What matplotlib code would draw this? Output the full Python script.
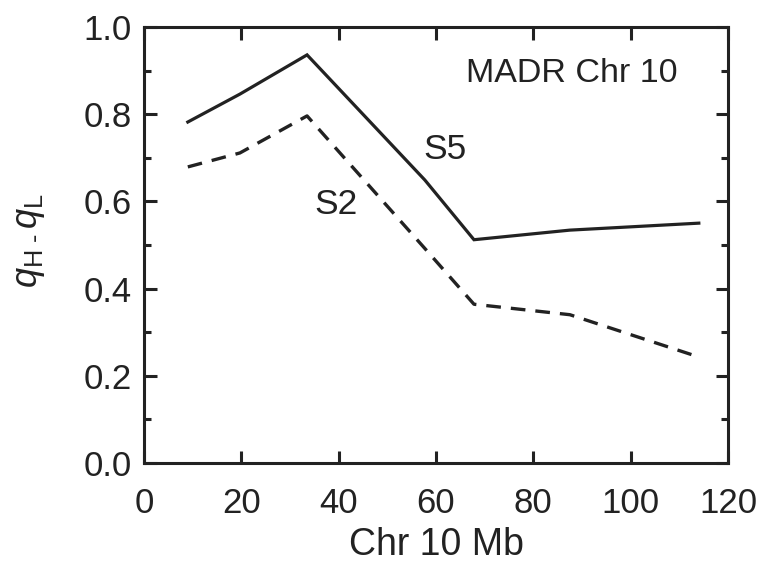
import numpy as np
import matplotlib
matplotlib.use("Agg")
import matplotlib.pyplot as plt
from matplotlib.ticker import MultipleLocator

# positions along chromosome 10 (Mb) and q_H - q_L for the two selection lines
chr_mb = [9.0, 19.7, 33.5, 57.7, 67.8, 87.5, 114.0]
s5_diff = [0.782, 0.846, 0.936, 0.649, 0.512, 0.534, 0.550]
s2_diff = [0.679, 0.711, 0.796, 0.492, 0.364, 0.340, 0.243]

x_ticks = [0, 20, 40, 60, 80, 100, 120]
y_ticks = [0.0, 0.2, 0.4, 0.6, 0.8, 1.0]

plt.rcParams['font.family'] = ['Liberation Sans', 'DejaVu Sans']
plt.rcParams['mathtext.fontset'] = 'custom'
plt.rcParams['mathtext.rm'] = 'Liberation Sans'
plt.rcParams['mathtext.it'] = 'Liberation Sans:italic'

ink = '#222222'
fig = plt.figure(figsize=(7.62, 5.68), dpi=100)
ax = fig.add_axes([0.189, 0.185, 0.7664, 0.7675])

ax.plot(chr_mb, s5_diff, color=ink, lw=2.3, solid_joinstyle='miter')
ax.plot(chr_mb, s2_diff, color=ink, lw=2.4, linestyle=(0, (4.4, 3.0)))

ax.text(61.8, 0.718, 'S5', fontsize=25.5, color=ink, ha='center', va='center')
ax.text(39.4, 0.592, 'S2', fontsize=25.5, color=ink, ha='center', va='center')
ax.text(87.9, 0.894, 'MADR Chr 10', fontsize=24.5, color=ink, ha='center', va='center')

ax.set_xlim(0, 120)
ax.set_ylim(0, 1.0)
ax.set_xticks(x_ticks)
ax.set_yticks(y_ticks)
ax.set_yticklabels([f'{v:.1f}' for v in y_ticks])
ax.yaxis.set_minor_locator(MultipleLocator(0.1))

for s in ax.spines.values():
    s.set_linewidth(2.2)
    s.set_color(ink)
ax.tick_params(which='both', direction='in', top=True, right=True, width=2.2, color=ink,
               labelsize=25, labelcolor=ink)
ax.tick_params(which='major', length=9)
ax.tick_params(which='minor', length=5)
ax.tick_params(axis='x', pad=17)
ax.tick_params(axis='y', pad=9)

ax.set_xlabel('Chr 10 Mb', fontsize=27, color=ink)
ax.xaxis.set_label_coords(0.5, -0.148)
ax.set_ylabel(r'$q_{\text{H -}}\,q_{\text{L}}$', fontsize=26, color=ink)
ax.yaxis.set_label_coords(-0.166, 0.51)

fig.savefig('out.png', dpi=100, facecolor='white')
